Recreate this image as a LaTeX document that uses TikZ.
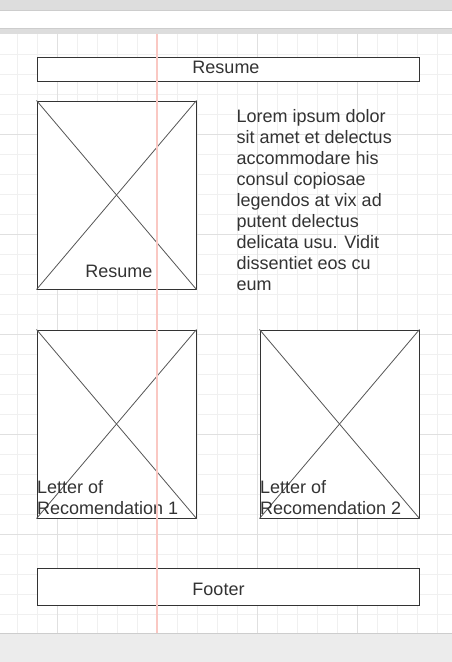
\documentclass[tikz,border=0pt]{standalone}
\usepackage{fontspec}
\setmainfont{Liberation Sans}
\usepackage{xcolor}
\usetikzlibrary{positioning, calc}
\definecolor{textcol}{RGB}{51, 51, 51}
\definecolor{bordercol}{RGB}{51, 51, 51}
\definecolor{crosscol}{RGB}{85, 85, 85}
\definecolor{gridminor}{RGB}{240, 240, 240}
\definecolor{gridmajor}{RGB}{224, 224, 224}
\definecolor{guidecol}{RGB}{250, 200, 195}
\definecolor{barcol}{RGB}{221, 221, 221}
\definecolor{barline}{RGB}{205, 205, 205}
\definecolor{footcol}{RGB}{236, 236, 236}
\tikzset{
    bar/.style={
        rectangle,
        draw=bordercol,
        fill=white,
        line width=1pt,
        minimum width=382pt,
        inner sep=0pt
    },
    imgbox/.style={
        rectangle,
        draw=bordercol,
        fill=white,
        line width=1pt,
        minimum width=159pt,
        minimum height=188pt,
        inner sep=0pt
    },
    cross/.style={
        draw=crosscol,
        line width=0.8pt
    },
    caption/.style={
        inner sep=0pt,
        align=left,
        text=textcol,
        font=\fontsize{18}{21}\selectfont
    }
}

\begin{document}
\begin{tikzpicture}[x=1pt, y=-1pt]
    \useasboundingbox (0,0) rectangle (452,662);

    % --- CANVAS ---
    \fill[barcol] (0,0) rectangle (452,34);
    \fill[white] (0,10) rectangle (452,28);
    \draw[barline, line width=0.8pt] (0,10) -- (452,10) (0,28) -- (452,28);
    \fill[white] (0,34) rectangle (452,633);
    \foreach \x in {17.5,37.5,...,437.5} \draw[gridminor, line width=0.8pt] (\x,34) -- (\x,633);
    \foreach \y in {54,74,...,614} \draw[gridminor, line width=0.8pt] (0,\y) -- (452,\y);
    \foreach \x in {57.5,257.5,357.5} \draw[gridmajor, line width=0.8pt] (\x,34) -- (\x,633);
    \foreach \y in {134,234,...,534} \draw[gridmajor, line width=0.8pt] (0,\y) -- (452,\y);
    \fill[footcol] (0,633) rectangle (452,662);
    \draw[barline, line width=0.8pt] (0,633) -- (452,633);

    % --- HEADER ---
    \node (header) [bar, minimum height=24pt] at (228,69) {};
    \node (header_lbl) [caption, anchor=base] at (226,73.5) {Resume};

    % --- RESUME PREVIEW + TEXT ---
    \node (resume_img) [imgbox] at (116.5,195) {};
    \draw[cross] (resume_img.north west) -- (resume_img.south east);
    \draw[cross] (resume_img.south west) -- (resume_img.north east);
    \node (resume_lbl) [caption, anchor=base] at (119,277.5) {Resume};
    % base = last line
    \node (lorem) [caption, anchor=base west] at (236.5,290.5) {Lorem ipsum dolor\\ sit amet et delectus\\ accommodare his\\ consul copiosae\\ legendos at vix ad\\ putent delectus\\ delicata usu. Vidit\\ dissentiet eos cu\\ eum};

    % --- LETTERS ---
    \node (letter1) [imgbox] at (116.5,424) {};
    \draw[cross] (letter1.north west) -- (letter1.south east);
    \draw[cross] (letter1.south west) -- (letter1.north east);
    \node (letter1_lbl) [caption, anchor=base west] at (37,514.5) {Letter of\\ Recomendation 1};

    \node (letter2) [imgbox, right=63pt of letter1] {};
    \draw[cross] (letter2.north west) -- (letter2.south east);
    \draw[cross] (letter2.south west) -- (letter2.north east);
    \node (letter2_lbl) [caption, anchor=base west] at (260,514.5) {Letter of\\ Recomendation 2};

    % --- FOOTER ---
    \node (footer) [bar, minimum height=37pt] at (228,586.5) {};
    \node (footer_lbl) [caption, anchor=base] at (218.5,595.5) {Footer};

    % --- GUIDE ---
    \draw[guidecol, line width=1.3pt] (157,34) -- (157,633);
\end{tikzpicture}
\end{document}
